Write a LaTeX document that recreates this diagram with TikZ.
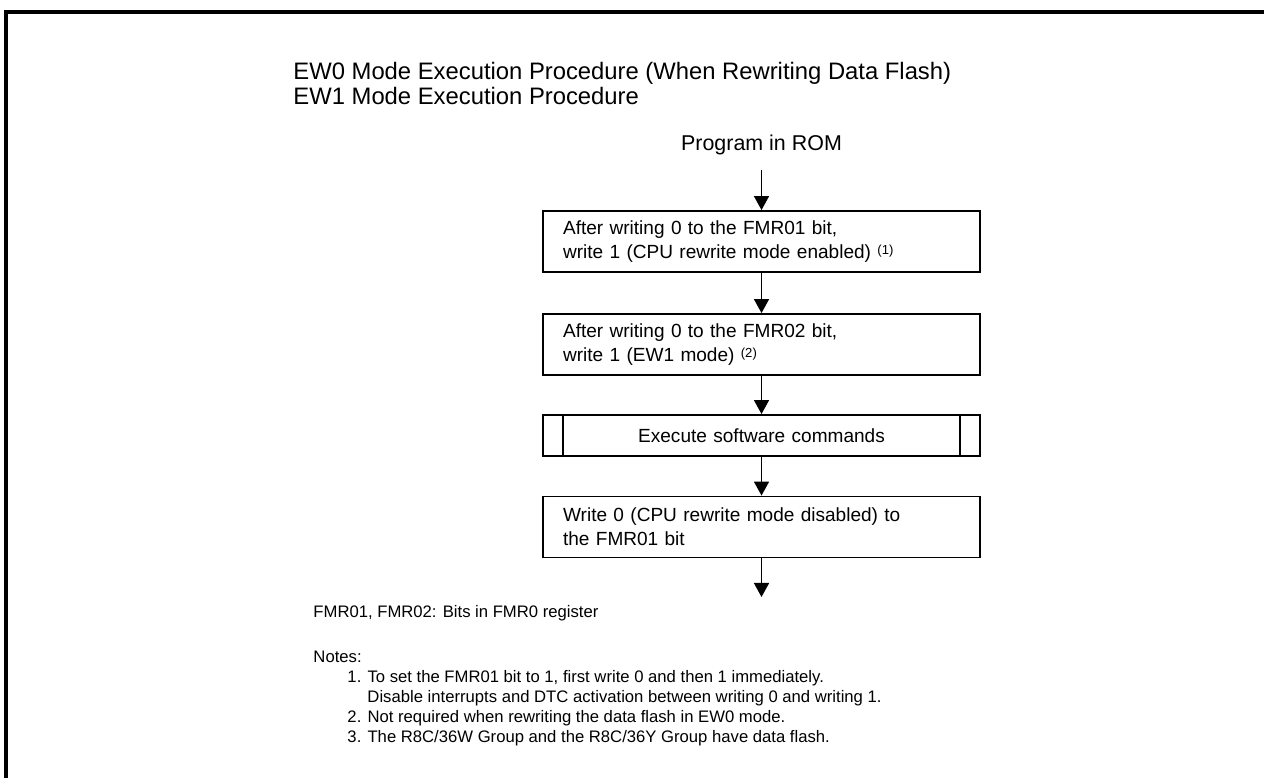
\documentclass[tikz,border=0pt]{standalone}
\usepackage{fontspec}
\setmainfont{Liberation Sans}
\usetikzlibrary{arrows.meta,positioning,calc}
\newcommand{\noteref}[1]{ {\fontsize{5.5}{6}\selectfont\raisebox{0.6ex}{(#1)}}}
\tikzset{
  procbox/.style={draw,line width=0.8pt,rectangle,minimum width=183.5pt,
    minimum height=25.6pt,text width=166.7pt,inner xsep=8.4pt,inner ysep=0pt,
    align=left,font=\fontsize{8}{10}\selectfont},
  flow/.style={line width=0.7pt,-{Triangle[length=5.9pt,width=6.3pt]}},
  note/.style={anchor=base west,inner sep=0pt,font=\fontsize{7}{8.4}\selectfont},
}

\begin{document}
\begin{tikzpicture}[x=0.42pt,y=-0.42pt]
  \useasboundingbox (0,0) rectangle (1264,778);
  \draw[line width=1.3pt] (1264,12) -- (6,12) -- (6,778);
  % title
  \node[anchor=base west,inner sep=0pt,font=\fontsize{10}{12}\selectfont]
       (title1) at (293,79) {EW0 Mode Execution Procedure (When Rewriting Data Flash)};
  \node[anchor=base west,inner sep=0pt,font=\fontsize{10}{12}\selectfont]
       (title2) at (293,104) {EW1 Mode Execution Procedure};
  \node[anchor=base,inner sep=0pt,font=\fontsize{9}{11}\selectfont]
       (rom) at (761.5,150) {Program in ROM};
  \coordinate (start) at (761.5,170);
  % steps
  \node[procbox] (fmr01) at (761.5,241.5)
       {After writing 0 to the FMR01 bit,\\write 1 (CPU rewrite mode enabled)\noteref{1}};
  \node[procbox] (fmr02) at (761.5,344.5)
       {After writing 0 to the FMR02 bit,\\write 1 (EW1 mode)\noteref{2}};
  \node[procbox,minimum height=17.2pt,align=center] (cmds) at (761.5,435.5)
       {Execute software commands};
  \draw[line width=0.8pt] ($(cmds.north west)+(21,0)$) -- ($(cmds.south west)+(21,0)$);
  \draw[line width=0.8pt] ($(cmds.north east)+(-21,0)$) -- ($(cmds.south east)+(-21,0)$);
  \node[procbox] (off) at (761.5,527)
       {Write 0 (CPU rewrite mode disabled) to\\the FMR01 bit};
  \coordinate (stop) at (761.5,597);
  \draw[flow] (start) -- (fmr01);
  \draw[flow] (fmr01) -- (fmr02);
  \draw[flow] (fmr02) -- (cmds);
  \draw[flow] (cmds) -- (off);
  \draw[flow] (off) -- (stop);
  % notes
  \node[note] (regs) at (313,617) {FMR01, FMR02: Bits in FMR0 register};
  \node[note] (notes) at (313,662) {Notes:};
  \node[note] (n1) at (347,682) {1. To set the FMR01 bit to 1, first write 0 and then 1 immediately.};
  \node[note] (n1b) at (367,702) {Disable interrupts and DTC activation between writing 0 and writing 1.};
  \node[note] (n2) at (347,722) {2. Not required when rewriting the data flash in EW0 mode.};
  \node[note] (n3) at (347,742) {3. The R8C/36W Group and the R8C/36Y Group have data flash.};
\end{tikzpicture}
\end{document}
